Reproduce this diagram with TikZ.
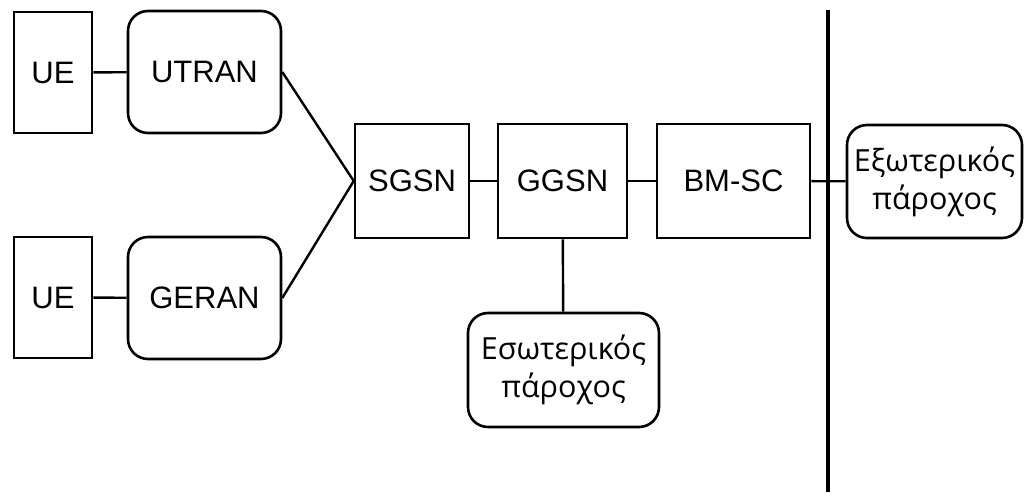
\documentclass[tikz,border=0pt]{standalone}
\usepackage{fontspec}
\setmainfont{Liberation Sans}
\newfontfamily\grfont{Open Sans}
\begin{document}
\begin{tikzpicture}[x=1pt,y=-1pt,
  box/.style={draw, line width=2.6pt, minimum width=#1, inner sep=0pt, font=\fontsize{31}{37}\selectfont},
  rbox/.style={draw, line width=2.6pt, rounded corners=20pt, inner sep=0pt, align=center, font=\fontsize{31}{37}\selectfont},
  conn/.style={line width=2.4pt}]
\useasboundingbox (0,0) rectangle (1026,502);
\node[box=78pt, minimum height=121pt] (ue1) at (53,72.5) {UE};
\node[rbox, minimum width=153pt, minimum height=122pt] (utran) at (204.5,72) {UTRAN};
\node[box=78pt, minimum height=121pt] (ue2) at (53,297.5) {UE};
\node[rbox, minimum width=153pt, minimum height=122pt] (geran) at (204.5,298) {GERAN};
\node[box=114pt, minimum height=114pt] (sgsn) at (412,181) {SGSN};
\node[box=129pt, minimum height=114pt] (ggsn) at (562.5,181) {GGSN};
\node[box=153pt, minimum height=114pt] (bmsc) at (733.5,181) {BM-SC};
\node[rbox, minimum width=175pt, minimum height=113pt, font=\grfont\fontsize{30.5}{38}\selectfont] (ext) at (934.5,181.5) {Εξωτερικός\\πάροχος};
\node[rbox, minimum width=191pt, minimum height=114pt, font=\grfont\fontsize{30.5}{38}\selectfont] (int) at (563.5,370) {Εσωτερικός\\πάροχος};
\coordinate (vtop) at (828,10);
\coordinate (vbot) at (828,492);
\draw[line width=4.5pt] (vtop) -- (vbot);
\draw[conn] (ue1) -- (utran);
\draw[conn] (ue2) -- (geran);
\draw[conn] (utran.east) -- (sgsn.west);
\draw[conn] (geran.east) -- (sgsn.west);
\draw[conn] (sgsn) -- (ggsn);
\draw[conn] (ggsn) -- (bmsc);
\draw[conn] (bmsc) -- (ext);
\draw[conn] (ggsn) -- (int);
\end{tikzpicture}
\end{document}
